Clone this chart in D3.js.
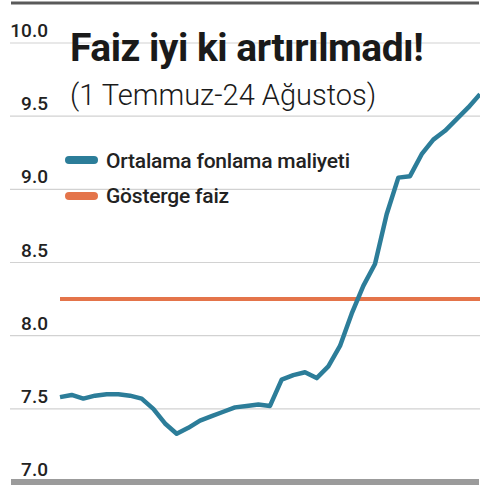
<!DOCTYPE html>
<html>
<head>
<meta charset="utf-8">
<script src="https://cdn.jsdelivr.net/npm/d3@7"></script>
<style>
  html, body { margin: 0; padding: 0; background: #fff; }
  svg { display: block; }
</style>
</head>
<body>
<div id="chart"></div>
<script>
// ortalama fonlama maliyeti, 1 Temmuz - 24 Agustos (gunluk)
const fonlama = [
  7.58, 7.595, 7.57, 7.59, 7.60, 7.60, 7.59, 7.57, 7.50, 7.40,
  7.33, 7.37, 7.42, 7.45, 7.48, 7.51, 7.52, 7.53, 7.52, 7.70,
  7.73, 7.75, 7.71, 7.79, 7.93, 8.15, 8.34, 8.49, 8.83, 9.08,
  9.09, 9.24, 9.34, 9.40, 9.48, 9.56, 9.65
];
const gostergeFaiz = 8.25;
const yTicks = [7.0, 7.5, 8.0, 8.5, 9.0, 9.5, 10.0];
const legendLabels = ["Ortalama fonlama maliyeti", "Gösterge faiz"];
const legendColors = ["#2c7d99", "#e4744a"];

const W = 480, H = 489;
const svg = d3.select("#chart").append("svg")
    .attr("width", W)
    .attr("height", H);

const x = d3.scaleLinear().domain([0, fonlama.length - 1]).range([60, 480]);
const y = d3.scaleLinear().domain([7, 10]).range([482, 43]);

// top rule
svg.append("line")
    .attr("x1", 11).attr("x2", 479)
    .attr("y1", 3).attr("y2", 3)
    .attr("stroke", "#5a5a5a")
    .attr("stroke-width", 3);

// gridlines
svg.append("g").selectAll("line")
    .data(yTicks.filter(d => d > 7))
    .enter().append("line")
    .attr("x1", 10).attr("x2", W)
    .attr("y1", d => y(d)).attr("y2", d => y(d))
    .attr("stroke", "#d2d2d2")
    .attr("stroke-width", 1.2);

// base bar
svg.append("line")
    .attr("x1", 11).attr("x2", 479)
    .attr("y1", y(7)).attr("y2", y(7))
    .attr("stroke", "#9b9b9b")
    .attr("stroke-width", 6);

// tick labels
svg.append("g").selectAll("text")
    .data(yTicks)
    .enter().append("text")
    .attr("x", 48)
    .attr("y", d => y(d) - 6)
    .attr("text-anchor", "end")
    .attr("font-family", "Roboto, sans-serif")
    .attr("font-weight", 500)
    .attr("font-size", "19px")
    .attr("fill", "#222")
    .text(d => d.toFixed(1));

// titles
svg.append("text")
    .attr("x", 70).attr("y", 61)
    .attr("font-family", "Roboto, sans-serif")
    .attr("font-weight", "bold")
    .attr("font-size", "39px")
    .attr("fill", "#1a1a1a")
    .attr("letter-spacing", "-0.5px")
    .text("Faiz iyi ki artırılmadı!");

svg.append("text")
    .attr("x", 70).attr("y", 105)
    .attr("font-family", "Roboto, sans-serif")
    .attr("font-weight", 300)
    .attr("font-size", "29px")
    .attr("fill", "#1a1a1a")
    .text("(1 Temmuz-24 Ağustos)");

// legend
const legend = svg.append("g");
legend.selectAll("line")
    .data(legendColors)
    .enter().append("line")
    .attr("x1", 69).attr("x2", 94)
    .attr("y1", (d, i) => 160 + i * 36)
    .attr("y2", (d, i) => 160 + i * 36)
    .attr("stroke", d => d)
    .attr("stroke-width", 8)
    .attr("stroke-linecap", "round");
legend.selectAll("text")
    .data(legendLabels)
    .enter().append("text")
    .attr("x", 106)
    .attr("y", (d, i) => 168 + i * 35)
    .attr("font-family", "Roboto, sans-serif")
    .attr("font-weight", 500)
    .attr("font-size", "21px")
    .attr("fill", "#222")
    .attr("letter-spacing", "-0.2px")
    .text(d => d);

// gosterge faiz
svg.append("line")
    .attr("x1", x(0)).attr("x2", W)
    .attr("y1", y(gostergeFaiz)).attr("y2", y(gostergeFaiz))
    .attr("stroke", legendColors[1])
    .attr("stroke-width", 4);

// fonlama maliyeti
const line = d3.line()
    .x((d, i) => x(i))
    .y(d => y(d));

svg.append("path")
    .datum(fonlama)
    .attr("d", line)
    .attr("fill", "none")
    .attr("stroke", legendColors[0])
    .attr("stroke-width", 4.5)
    .attr("stroke-linejoin", "round");
</script>
</body>
</html>
